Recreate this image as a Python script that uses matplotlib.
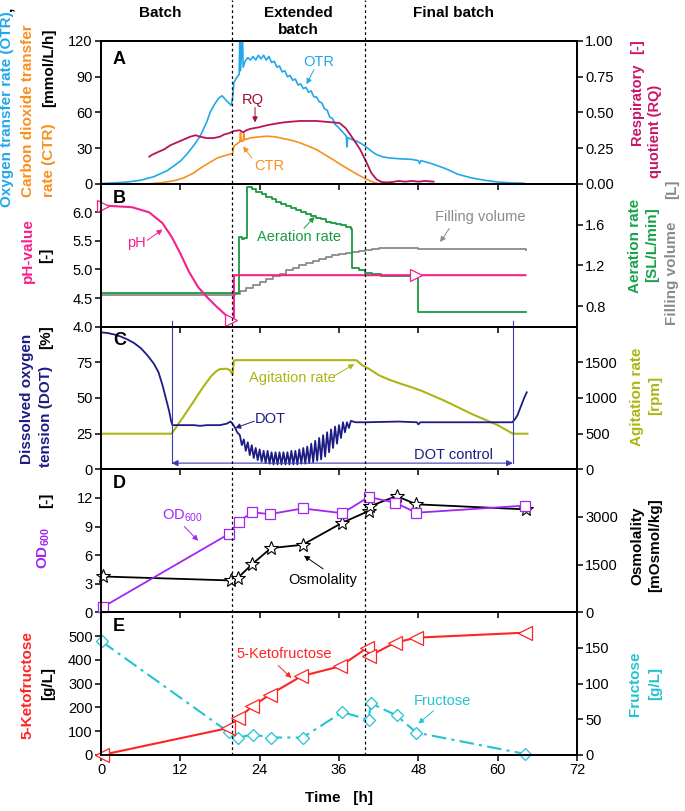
import matplotlib
matplotlib.use('Agg')
import matplotlib.pyplot as plt
from matplotlib import transforms
from matplotlib.lines import Line2D

plt.rcParams['font.family'] = ['Liberation Sans', 'DejaVu Sans']
plt.rcParams['mathtext.default'] = 'regular'

# ---------------- data ----------------
phase_bounds = [19.8, 40.0]
phase_names = ["Batch", "Extended\nbatch", "Final batch"]
phase_centers = [9.0, 29.8, 53.3]

# Panel A
otr_t = [0, 2, 4, 6, 8, 10, 11, 12, 13, 14, 15, 16, 16.5, 17.2, 17.8, 18.3, 18.8, 19.3, 19.7, 19.9, 20.1,
         20.5, 20.9, 21.0, 21.1, 21.4, 21.5, 21.8, 22.2, 22.6, 23.0, 23.4, 23.8, 24.2, 24.6, 25.0, 25.4,
         25.8, 26.2, 26.6, 27.0, 27.4, 27.8, 28.2, 28.6, 29.0, 29.4, 29.8, 30.2, 30.6, 31.0, 31.4, 31.8,
         32.2, 32.6, 33.0, 33.4, 33.8, 34.2, 34.6, 35.0, 35.4, 35.8, 36.3, 36.8, 37.1, 37.2, 37.3, 38,
         38.6, 39.3, 40, 41, 41.7, 42.7, 43.7, 45.2, 47, 48, 48.2, 48.4, 50, 52, 54, 56, 58, 60, 62, 64]
otr_v = [0.3, 0.8, 1.5, 3, 6, 11, 15, 19, 25, 32, 40, 52, 60, 67, 72, 74, 71, 68, 66, 72, 85,
         89, 92, 125, 95, 125, 98, 103, 106, 104, 107, 104, 108, 105, 108, 104, 107,
         102, 103, 98, 99, 94, 95, 90, 91, 87, 88, 83, 84, 80, 81, 77, 78,
         73, 73, 69, 68, 63, 62, 56, 55, 50, 48, 45, 42, 40, 31, 39, 37,
         36, 34, 31.5, 27, 24.5, 22.5, 21.7, 21, 20.5, 19.5, 17, 19.5, 17, 13, 8, 5, 3, 1.5, 0.8, 0.5]
ctr_t = [7.3, 9, 11, 12.5, 14, 15, 16.3, 17.6, 18.6, 19.6, 19.9, 20.1, 21.0, 21.1, 21.2, 21.5, 21.6,
         21.7, 22.6, 24, 25.1, 26.3, 27.6, 29, 30.1, 31.3, 32.6, 33.8, 35.1, 36.3, 37.6, 38.8, 40.1,
         41, 41.6, 42.5, 43.5]
ctr_v = [0, 0.8, 2.5, 5, 9, 13, 17.5, 21.7, 23.5, 25, 25.5, 31.5, 35.5, 43, 35.5, 36, 42,
         37, 38.6, 39.5, 40, 39.5, 38, 36.3, 34.4, 31.8, 28.7, 24.7, 20.3, 16, 11.8, 7.8, 4,
         1.8, 0.6, 0.1, 0]
rq_t = [7.3, 7.6, 8.5, 9.5, 10.5, 11.5, 12.5, 13.5, 14.3, 15, 16, 17, 18, 18.6, 19.4, 20.1, 21, 21.5,
        22, 22.6, 23.8, 25.1, 26.3, 27.6, 28.8, 30.1, 31.3, 32.6, 33.8, 35.1, 36.1, 37, 37.7, 38.5,
        39.2, 40.2, 40.9, 41.7, 42.5, 43.2, 44, 45, 46, 47, 48, 49, 50.3]
rq_v = [0.19, 0.20, 0.22, 0.24, 0.27, 0.29, 0.31, 0.33, 0.34, 0.33, 0.32, 0.32, 0.33, 0.345, 0.355,
        0.37, 0.375, 0.36, 0.375, 0.385, 0.395, 0.41, 0.42, 0.43, 0.435, 0.44, 0.44, 0.44, 0.435,
        0.43, 0.425, 0.39, 0.345, 0.29, 0.24, 0.146, 0.075, 0.03, 0.012, 0.01, 0.012, 0.02, 0.015,
        0.02, 0.015, 0.02, 0.015]

# Panel B
ph_t = [0.3, 4.7, 7.3, 9.3, 10.7, 12, 13.3, 14.7, 16, 17.3, 18.7, 19.7, 20.1, 20.1, 64.2]
ph_v = [6.12, 6.09, 6.0, 5.81, 5.57, 5.28, 4.96, 4.69, 4.52, 4.37, 4.22, 4.11, 4.11, 4.9, 4.9]
ph_mark_t = [0.3, 19.7, 47.7]
ph_mark_v = [6.12, 4.11, 4.9]
aer_t = [0, 20.3, 20.9, 21.3, 21.7, 22.1, 22.8, 23.5, 24.3, 25, 25.8, 26.5, 27.3, 28, 28.8, 29.5,
         30.3, 31, 31.8, 32.5, 33.3, 34, 34.8, 35.5, 36.3, 37, 37.8, 38.0, 39, 40, 41, 42.3, 48.0, 64.3]
aer_v = [0.93, 0.93, 1.48, 1.46, 1.47, 1.97, 1.95, 1.92, 1.90, 1.87, 1.85, 1.82, 1.80, 1.78, 1.76,
         1.74, 1.72, 1.70, 1.68, 1.66, 1.65, 1.63, 1.62, 1.61, 1.60, 1.58, 1.56, 1.17, 1.15, 1.13,
         1.12, 1.10, 0.74, 0.74]
fill_t = [0, 19.8, 20.3, 21, 22, 23, 24, 25, 26, 27, 28, 29, 30, 31, 32, 33, 34, 35, 36, 37, 38, 39,
          40, 41, 42, 44, 46, 48, 56, 64.3]
fill_v = [0.91, 0.91, 0.92, 0.95, 0.98, 1.01, 1.04, 1.07, 1.10, 1.12, 1.15, 1.17, 1.20, 1.22, 1.24,
          1.26, 1.28, 1.30, 1.31, 1.32, 1.33, 1.34, 1.35, 1.36, 1.37, 1.37, 1.37, 1.36, 1.36, 1.355]

# Panel C
dot_t = [0, 1, 2, 3, 4, 5, 6, 7, 8, 8.7, 9.3, 9.8, 10.3, 10.6, 10.8, 12, 14, 15, 16, 18, 19, 19.6,
         19.9, 20.3, 20.6, 21.0, 21.3, 21.6, 21.9, 22.2, 22.5, 22.8, 23.1, 23.4, 23.7, 24.0, 24.3,
         24.6, 24.9, 25.2, 25.5, 25.8, 26.1, 26.4, 26.7, 27.0, 27.3, 27.6, 27.9, 28.2, 28.5, 28.8,
         29.1, 29.4, 29.7, 30.0, 30.3, 30.6, 30.9, 31.2, 31.5, 31.8, 32.1, 32.4, 32.7, 33.0, 33.3,
         33.6, 33.9, 34.2, 34.5, 34.8, 35.1, 35.4, 35.7, 36.0, 36.3, 36.6, 36.9, 37.2, 37.5, 37.8,
         38.5, 40, 45, 47.8, 48, 48.3, 55, 60, 62.2, 62.6, 63, 63.5, 64, 64.4]
dot_v = [96, 95.5, 94.5, 93, 91, 88.5, 85, 80, 74, 68, 59, 50, 41, 34, 31, 31, 31, 30.5, 31, 31, 32,
         33.5, 32, 29, 26, 24, 17, 21, 13, 19, 10, 17, 8, 15, 6.5, 14, 5.5, 13, 4.5, 13, 4, 12, 3.5,
         12, 3.5, 12, 3.5, 12, 3.5, 12, 3.5, 13, 3.5, 13, 3.5, 14, 4, 15, 4, 16, 4.5, 18, 5, 20, 6,
         22, 7, 24, 9, 26, 12, 28, 15, 30, 18, 31, 22, 33, 26, 33, 29, 34, 33, 33, 33.5, 33, 31.5,
         33, 33, 33, 33, 35, 38, 44, 50, 54]
agi_t = [0, 10.7, 11.5, 12.7, 14, 14.7, 15.5, 16.7, 17.5, 18, 19, 19.5, 19.9, 20.1, 20.3, 25, 30, 35,
         38.6, 39.5, 40.7, 42, 43.5, 45, 47, 48.5, 50, 52, 54, 56, 58, 60, 62.3, 64.5]
agi_v = [500, 500, 610, 770, 950, 1050, 1160, 1310, 1380, 1405, 1410, 1390, 1330, 1520, 1530, 1530,
         1530, 1530, 1530, 1460, 1400, 1320, 1260, 1210, 1150, 1100, 1040, 960, 870, 780, 700, 620,
         500, 500]
dot_ctrl = [10.7, 62.3]

# Panel D
od_t = [0.3, 19.3, 20.8, 22.9, 25.5, 30.5, 36.5, 40.5, 44.5, 47.7, 64.2]
od_v = [0.55, 8.2, 9.5, 10.5, 10.3, 10.9, 10.4, 12.1, 11.5, 10.45, 11.2]
osm_t = [0.3, 19.7, 20.7, 22.9, 25.7, 30.5, 36.5, 40.5, 40.7, 44.7, 47.7, 64.3]
osm_v = [1125, 1000, 1083, 1520, 2020, 2125, 2820, 3190, 3340, 3660, 3400, 3240]

# Panel E
kf_t = [0.1, 19.2, 20.7, 22.9, 25.5, 30.3, 36.2, 40.3, 40.5, 44.5, 47.7, 64.2]
kf_v = [0, 113, 155, 204, 253, 331, 373, 451, 415, 472, 493, 514]
fru_t = [0.1, 19.3, 20.7, 23.0, 25.7, 30.5, 36.5, 40.5, 40.8, 44.7, 47.7, 64.2]
fru_v = [159, 32, 24.5, 28.6, 24.5, 24.5, 60, 49.4, 72.5, 55.4, 31.4, 1.4]

# ---------------- colours ----------------
C_OTR = '#22a7ea'
C_CTR = '#f7901e'
C_RQ = '#b8145c'
C_RQ_TXT = '#9b1030'
C_RQ_LAB = '#c8146a'
C_PH = '#f5208c'
C_AER = '#1a9a40'
C_AER_LAB = '#17a34a'
C_FILL = '#8a8a8a'
C_DOT = '#1c1c84'
C_AGI = '#adb514'
C_OD = '#a226f2'
C_KF = '#ff2424'
C_FRU = '#22c3d2'

# ---------------- figure ----------------
W, H = 685, 811
fig = plt.figure(figsize=(W / 100, H / 100), dpi=100)
L, R, T, B = 101 / W, 577 / W, 1 - 41 / H, 1 - 755 / H
gs = fig.add_gridspec(5, 1, left=L, right=R, top=T, bottom=B, hspace=0)
axes = [fig.add_subplot(gs[i]) for i in range(5)]
twins = [a.twinx() for a in axes]

TICK = 10.5
for i, (a, tw) in enumerate(zip(axes, twins)):
    a.set_xlim(0, 72)
    a.set_xticks(range(0, 73, 12))
    a.tick_params(axis='both', direction='out', length=4, width=1.1, labelsize=TICK, pad=2)
    tw.tick_params(axis='y', direction='out', length=4, width=1.1, labelsize=TICK, pad=2)
    if i < 4:
        a.tick_params(labelbottom=False)
    for sp in a.spines.values():
        sp.set_linewidth(1.3)
    for sp in tw.spines.values():
        sp.set_linewidth(1.3)

def arrow(ax, xy, xytext, color, text='', size=10.5, **kw):
    ax.annotate(text, xy=xy, xytext=xytext, color=color, fontsize=size,
                arrowprops=dict(arrowstyle='-|>', color=color, lw=0.7, mutation_scale=8,
                                shrinkA=0, shrinkB=0), **kw)

# ---- Panel A
a, tw = axes[0], twins[0]
a.plot(otr_t, otr_v, color=C_OTR, lw=1.2)
a.plot(ctr_t, ctr_v, color=C_CTR, lw=1.2)
tw.plot(rq_t, rq_v, color=C_RQ, lw=1.3)
a.set_ylim(0, 120)
a.set_yticks([0, 30, 60, 90, 120])
tw.set_ylim(0, 1)
tw.set_yticks([0, 0.25, 0.5, 0.75, 1.0])
tw.set_yticklabels(['0.00', '0.25', '0.50', '0.75', '1.00'])
a.text(33.0, 102.5, 'OTR', color=C_OTR, fontsize=10.5, ha='center', va='center')
arrow(a, (31.1, 83.7), (32.2, 96), C_OTR)
tw.text(22.9, 0.59, 'RQ', color=C_RQ_TXT, fontsize=10.5, ha='center', va='center')
arrow(tw, (23.3, 0.43), (23.3, 0.535), C_RQ_TXT)
a.text(25.4, 15.2, 'CTR', color=C_CTR, fontsize=10.5, ha='center', va='center')
arrow(a, (21.5, 31.5), (22.8, 21.7), C_CTR)
a.text(0.025, 0.93, 'A', transform=a.transAxes, fontsize=13, fontweight='bold', va='top')

# ---- Panel B
a, tw = axes[1], twins[1]
a.set_zorder(tw.get_zorder() + 1)
a.patch.set_visible(False)
tw.plot(fill_t, fill_v, color=C_FILL, lw=1.3, drawstyle='steps-post')
tw.plot(aer_t, aer_v, color=C_AER, lw=1.3, drawstyle='steps-post')
a.plot(ph_t, ph_v, color=C_PH, lw=1.5)
a.plot(ph_mark_t, ph_mark_v, ls='none', marker='>', ms=8, mfc='white', mec=C_PH, mew=0.9,
       clip_on=False)
a.set_ylim(4.0, 6.5)
a.set_yticks([4.0, 4.5, 5.0, 5.5, 6.0])
a.set_yticklabels(['4.0', '4.5', '5.0', '5.5', '6.0'])
tw.set_ylim(0.6, 2.0)
tw.set_yticks([0.8, 1.2, 1.6])
a.text(5.3, 5.46, 'pH', color=C_PH, fontsize=10.5, ha='center', va='center')
arrow(a, (9.3, 5.70), (7.0, 5.51), C_PH)
a.text(30.0, 5.56, 'Aeration rate', color=C_AER, fontsize=10.5, ha='center', va='center')
arrow(a, (32.3, 5.92), (30.7, 5.72), C_AER)
a.text(57.3, 5.92, 'Filling volume', color=C_FILL, fontsize=10.5, ha='center', va='center')
arrow(a, (51.3, 5.48), (52.7, 5.72), C_FILL)
a.text(0.025, 0.96, 'B', transform=a.transAxes, fontsize=13, fontweight='bold', va='top')

# ---- Panel C
a, tw = axes[2], twins[2]
tw.plot(agi_t, agi_v, color=C_AGI, lw=1.5)
a.set_zorder(tw.get_zorder() + 1)
a.patch.set_visible(False)
a.plot(dot_t, dot_v, color=C_DOT, lw=1.3)
a.set_ylim(0, 100)
a.set_yticks([0, 25, 50, 75])
tw.set_ylim(0, 2000)
tw.set_yticks([0, 500, 1000, 1500])
for tc in dot_ctrl:
    a.plot([tc, tc], [4.4, 104], color='#3a3ab0', lw=0.8, clip_on=False)
a.annotate('', xy=(dot_ctrl[0], 4.4), xytext=(dot_ctrl[1], 4.4),
           arrowprops=dict(arrowstyle='<|-|>', color='#3a3ab0', lw=0.8, mutation_scale=9,
                           shrinkA=0, shrinkB=0))
a.text(53.3, 10.3, 'DOT control', color=C_DOT, fontsize=10.5, ha='center', va='center')
a.text(29.0, 64.0, 'Agitation rate', color=C_AGI, fontsize=10.5, ha='center', va='center')
arrow(a, (38.3, 73.7), (35.3, 65.5), C_AGI)
a.text(25.6, 35.0, 'DOT', color=C_DOT, fontsize=10.5, ha='center', va='center')
arrow(a, (20.3, 29.0), (23.2, 33.8), C_DOT)
a.text(0.025, 0.96, 'C', transform=a.transAxes, fontsize=13, fontweight='bold', va='top')

# ---- Panel D
a, tw = axes[3], twins[3]
a.set_zorder(tw.get_zorder() + 1)
a.patch.set_visible(False)
tw.plot(osm_t, osm_v, color='black', lw=1.3, marker='*', ms=10, mfc='white', mec='black',
        mew=0.8, clip_on=False)
a.plot(od_t, od_v, color=C_OD, lw=1.3, marker='s', ms=6.5, mfc='white', mec=C_OD, mew=0.9,
       clip_on=False)
a.set_ylim(0, 15)
a.set_yticks([0, 3, 6, 9, 12])
tw.set_ylim(0, 4500)
tw.set_yticks([0, 1500, 3000])
a.text(12.3, 10.1, 'OD$_{600}$', color=C_OD, fontsize=10.5, ha='center', va='center')
arrow(a, (14.7, 7.5), (12.6, 9.0), C_OD)
a.text(33.6, 3.4, 'Osmolality', color='black', fontsize=10.5, ha='center', va='center')
arrow(a, (30.7, 5.94), (33.6, 4.55), 'black')
a.text(0.025, 0.96, 'D', transform=a.transAxes, fontsize=13, fontweight='bold', va='top')

# ---- Panel E
a, tw = axes[4], twins[4]
tw.plot(fru_t, fru_v, color=C_FRU, lw=1.5, ls=(0, (7, 2.5, 1.5, 2.5)), marker='D', ms=6,
        mfc='white', mec=C_FRU, mew=0.9, clip_on=False)
a.set_zorder(tw.get_zorder() + 1)
a.patch.set_visible(False)
a.plot(kf_t, kf_v, color=C_KF, lw=1.5, marker='<', ms=10, mfc='white', mec=C_KF, mew=0.9,
       clip_on=False)
a.set_ylim(0, 600)
a.set_yticks([0, 100, 200, 300, 400, 500])
tw.set_ylim(0, 200)
tw.set_yticks([0, 50, 100, 150])
a.text(27.7, 425, '5-Ketofructose', color=C_KF, fontsize=10.5, ha='center', va='center')
arrow(a, (28.8, 324), (26.8, 376), C_KF)
tw.text(51.6, 75, 'Fructose', color=C_FRU, fontsize=10.5, ha='center', va='center')
arrow(tw, (48.0, 44), (50.3, 62), C_FRU)
a.text(0.025, 0.96, 'E', transform=a.transAxes, fontsize=13, fontweight='bold', va='top')
a.set_xlabel('Time   [h]', fontsize=11, fontweight='bold', labelpad=10)

# ---- phase boundaries and headers
bt = transforms.blended_transform_factory(axes[0].transData, fig.transFigure)
for pb in phase_bounds:
    fig.add_artist(Line2D([pb, pb], [B, 1.0], transform=bt, color='black', lw=0.9,
                          ls=(0, (2.2, 2.2)), zorder=10))
for name, pc in zip(phase_names, phase_centers):
    fig.text(pc, 1 - 6 / H, name, transform=bt, ha='center', va='top', fontsize=11,
             fontweight='bold', linespacing=1.25)

# ---- axis labels (rotated, multi-coloured)
def vlab(x_px, y_px, s, color, size=11, va='center'):
    return fig.text(x_px / W, 1 - y_px / H, s, rotation=90, ha='center', va=va,
                    color=color, fontsize=size, fontweight='bold')

t1 = vlab(7, 207, 'Oxygen transfer rate (OTR)', C_OTR, va='bottom')
fig.canvas.draw()
bb = t1.get_window_extent(fig.canvas.get_renderer())
fig.text(7 / W, bb.y1 / fig.bbox.height, ',', rotation=90, ha='center', va='bottom',
         color='black', fontsize=11, fontweight='bold')
vlab(28, 197, 'Carbon dioxide transfer', C_CTR, va='bottom')
vlab(49, 197, 'rate (CTR)', C_CTR, va='bottom')
vlab(49, 107, '[mmol/L/h]', 'black', va='bottom')

vlab(28, 251, 'pH-value', C_PH)
vlab(46, 255, '[-]', 'black')

vlab(27, 399, 'Dissolved oxygen', C_DOT)
vlab(46, 467, 'tension (DOT)', C_DOT, va='bottom')
vlab(46, 337, '[%]', 'black')

vlab(44, 548, 'OD$_{600}$', C_OD)
vlab(46, 500, '[-]', 'black')

vlab(27, 685, '5-Ketofructose', C_KF)
vlab(48, 684, '[g/L]', 'black')

vlab(637, 104, 'Respiratory', C_RQ_LAB, size=10.5)
vlab(637, 47, '[-]', C_RQ_LAB, size=10.5)
vlab(655, 131, 'quotient (RQ)', C_RQ_LAB, size=10.5)

vlab(635, 246, 'Aeration rate', C_AER_LAB)
vlab(652, 245, '[SL/L/min]', C_AER_LAB)
vlab(672, 325, 'Filling volume', C_FILL, va='bottom')
vlab(672, 189, '[L]', C_FILL)

vlab(637, 397, 'Agitation rate', C_AGI)
vlab(655, 395, '[rpm]', C_AGI)

vlab(637, 546, 'Osmolality', 'black')
vlab(655, 545, '[mOsmol/kg]', 'black')

vlab(635, 684, 'Fructose', C_FRU)
vlab(655, 684, '[g/L]', C_FRU)

fig.savefig('out.png', dpi=100)
